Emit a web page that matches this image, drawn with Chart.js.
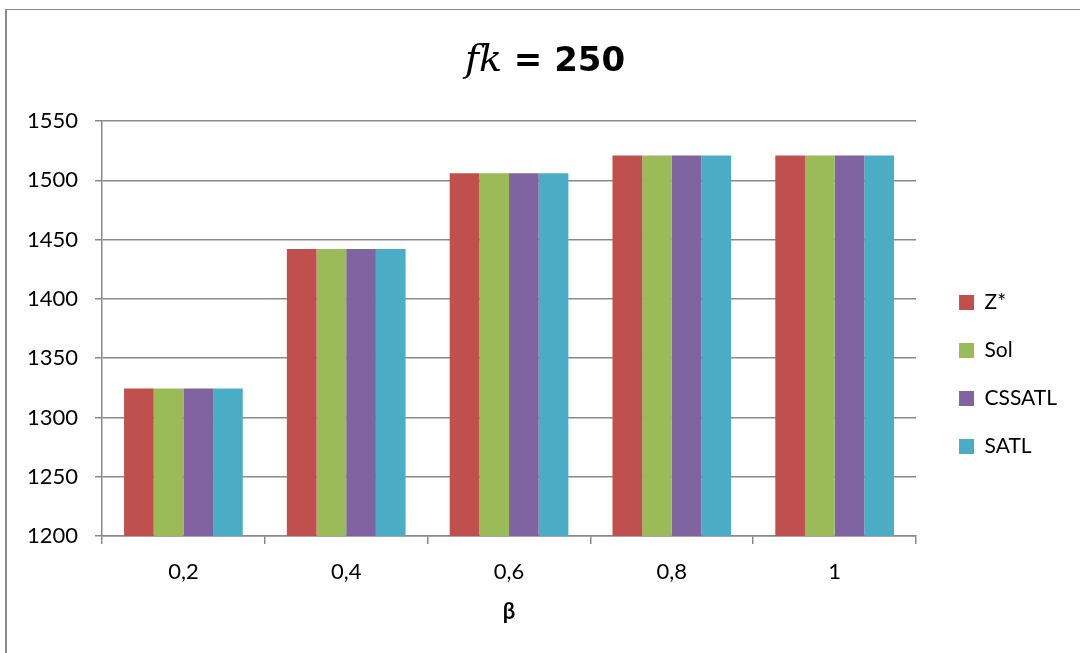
<!DOCTYPE html>
<html>
<head>
<meta charset="utf-8">
<script src="https://cdn.jsdelivr.net/npm/chart.js@4/dist/chart.umd.min.js"></script>
<style>
html, body { margin: 0; padding: 0; background: #fff; overflow: hidden; }
#frame { position: absolute; left: 5px; top: 9px; width: 1200px; height: 800px;
  border-left: 2px solid #8c8c8c; border-top: 1px solid #8c8c8c; }
#wrap { position: absolute; left: 0; top: 0; width: 1080px; height: 653px; }
</style>
</head>
<body>
<div id="frame"></div>
<div id="wrap"><canvas id="canvas" width="1080" height="653"></canvas></div>
<script>
// data
var categories = ["0,2", "0,4", "0,6", "0,8", "1"];
var zStar  = [1324.5, 1442, 1506, 1521, 1521];
var sol    = [1324.5, 1442, 1506, 1521, 1521];
var cssatl = [1324.5, 1442, 1506, 1521, 1521];
var satl   = [1324.5, 1442, 1506, 1521, 1521];
var yMin = 1200, yMax = 1550, yStep = 50;
var titleVar = "fk";
var titleRest = " = 250";
var xTitle = "β";

var gridColor = '#8a8a8a';

// title: italic math variable + bold rest
var mathTitle = {
    id: 'mathTitle',
    afterDraw: function (chart) {
        var ctx = chart.ctx;
        ctx.save();
        var f1 = 'italic 38px "DejaVu Serif"';
        var f2 = 'bold 34px "DejaVu Sans"';
        ctx.font = f1;
        var w1 = ctx.measureText(titleVar).width;
        ctx.font = f2;
        var w2 = ctx.measureText(titleRest).width;
        var x = 545 - (w1 + w2) / 2;
        var y = 71;
        ctx.fillStyle = '#000';
        ctx.textBaseline = 'alphabetic';
        ctx.textAlign = 'left';
        ctx.font = f1;
        ctx.fillText(titleVar, x, y);
        ctx.font = f2;
        ctx.fillText(titleRest, x + w1, y);
        ctx.restore();
    }
};

var config = {
    type: 'bar',
    data: {
        labels: categories,
        datasets: [
            { label: "Z*", data: zStar, backgroundColor: '#C0504D' },
            { label: "Sol", data: sol, backgroundColor: '#9BBB59' },
            { label: "CSSATL", data: cssatl, backgroundColor: '#8064A2' },
            { label: "SATL", data: satl, backgroundColor: '#4BACC6' }
        ]
    },
    options: {
        responsive: false,
        animation: false,
        devicePixelRatio: 1,
        layout: { padding: { top: 121, right: 13, bottom: 0, left: 0 } },
        datasets: {
            bar: { categoryPercentage: 0.729, barPercentage: 1, borderWidth: 0 }
        },
        plugins: {
            title: { display: false },
            tooltip: { enabled: false },
            legend: {
                position: 'right',
                fullSize: false,
                title: { display: true, text: ' ', font: { size: 10 }, padding: { top: 80, bottom: 0 } },
                labels: {
                    boxWidth: 15,
                    boxHeight: 15,
                    padding: 27,
                    color: '#000',
                    font: { family: 'Lato', size: 21 }
                }
            }
        },
        scales: {
            x: {
                offset: true,
                grid: { offset: true, drawOnChartArea: false, drawTicks: true, tickLength: 8, color: gridColor, lineWidth: 1.5 },
                border: { color: gridColor, width: 1.5 },
                ticks: { color: '#000', font: { family: 'Lato', size: 22 }, padding: 15 },
                title: { display: true, text: xTitle, color: '#000', font: { family: 'Lato', size: 22, weight: 'bold' }, padding: { top: 0, bottom: 28 } },
                afterFit: function (s) { s.height = 117; }
            },
            y: {
                min: yMin,
                max: yMax,
                ticks: {
                    stepSize: yStep, color: '#000', font: { family: 'Lato', size: 22 }, padding: 17,
                    callback: function (v) { return String(v); }
                },
                grid: { color: gridColor, lineWidth: 1.5, tickLength: 7 },
                border: { color: gridColor, width: 1.5 },
                afterFit: function (s) { s.width = 102; }
            },
            gap: {
                type: 'linear',
                position: 'right',
                grid: { display: false },
                border: { display: false },
                ticks: { display: false },
                afterFit: function (s) { s.width = 16; }
            }
        }
    },
    plugins: [mathTitle]
};

window.onload = function () {
    window.myBar = new Chart(document.getElementById("canvas"), config);
};
</script>
</body>
</html>
